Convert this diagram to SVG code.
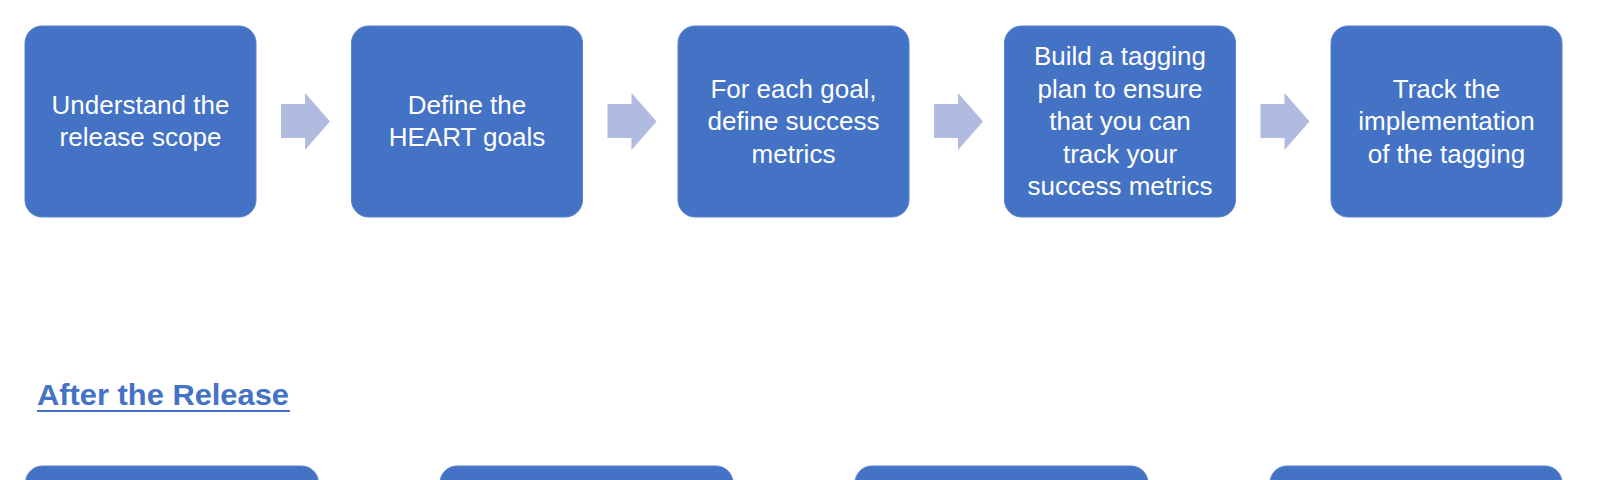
<svg xmlns="http://www.w3.org/2000/svg" width="1600" height="480" viewBox="0 0 1600 480">
  <defs>
    <style>
      .box { fill: #4472C4; stroke: #5A82CC; stroke-width: 1; }
      .arrow { fill: #B0BCDF; }
      .lbl { fill: #FFFFFF; font-family: "Liberation Sans", Arial, sans-serif; font-size: 26px; text-anchor: middle; }
      .hdr { fill: #4472C4; font-family: "Liberation Sans", Arial, sans-serif; font-size: 30px; font-weight: bold; }
    </style>
    <polygon id="arr" points="0,19 24,19 24,8 49,36.5 24,65 24,53 0,53"/>
  </defs>
  <rect width="1600" height="480" fill="#FFFFFF"/>

  <g id="connectors">
    <use href="#arr" class="arrow" x="281" y="85"/>
    <use href="#arr" class="arrow" x="607.5" y="85"/>
    <use href="#arr" class="arrow" x="934" y="85"/>
    <use href="#arr" class="arrow" x="1260.5" y="85"/>
  </g>

  <g id="node1">
    <rect class="box" x="25" y="26" width="231" height="191" rx="17"/>
    <text class="lbl" x="140.5" y="113.5">Understand the</text>
    <text class="lbl" x="140.5" y="146">release scope</text>
  </g>
  <g id="node2">
    <rect class="box" x="351.5" y="26" width="231" height="191" rx="17"/>
    <text class="lbl" x="467" y="113.5">Define the</text>
    <text class="lbl" x="467" y="146">HEART goals</text>
  </g>
  <g id="node3">
    <rect class="box" x="678" y="26" width="231" height="191" rx="17"/>
    <text class="lbl" x="793.5" y="97.5">For each goal,</text>
    <text class="lbl" x="793.5" y="130">define success</text>
    <text class="lbl" x="793.5" y="162.5">metrics</text>
  </g>
  <g id="node4">
    <rect class="box" x="1004.5" y="26" width="231" height="191" rx="17"/>
    <text class="lbl" x="1120" y="65">Build a tagging</text>
    <text class="lbl" x="1120" y="97.5">plan to ensure</text>
    <text class="lbl" x="1120" y="130">that you can</text>
    <text class="lbl" x="1120" y="162.5">track your</text>
    <text class="lbl" x="1120" y="195">success metrics</text>
  </g>
  <g id="node5">
    <rect class="box" x="1331" y="26" width="231" height="191" rx="17"/>
    <text class="lbl" x="1446.5" y="97.5">Track the</text>
    <text class="lbl" x="1446.5" y="130">implementation</text>
    <text class="lbl" x="1446.5" y="162.5">of the tagging</text>
  </g>

  <g id="heading">
    <text class="hdr" x="37" y="405" textLength="252" lengthAdjust="spacingAndGlyphs">After the Release</text>
    <rect x="37" y="410" width="253" height="2" fill="#4472C4"/>
  </g>

  <g id="node6">
    <rect class="box" x="25.5" y="466" width="293" height="60" rx="17"/>
  </g>
  <g id="node7">
    <rect class="box" x="440" y="466" width="293" height="60" rx="17"/>
  </g>
  <g id="node8">
    <rect class="box" x="855" y="466" width="293" height="60" rx="17"/>
  </g>
  <g id="node9">
    <rect class="box" x="1270" y="466" width="292" height="60" rx="17"/>
  </g>
</svg>
